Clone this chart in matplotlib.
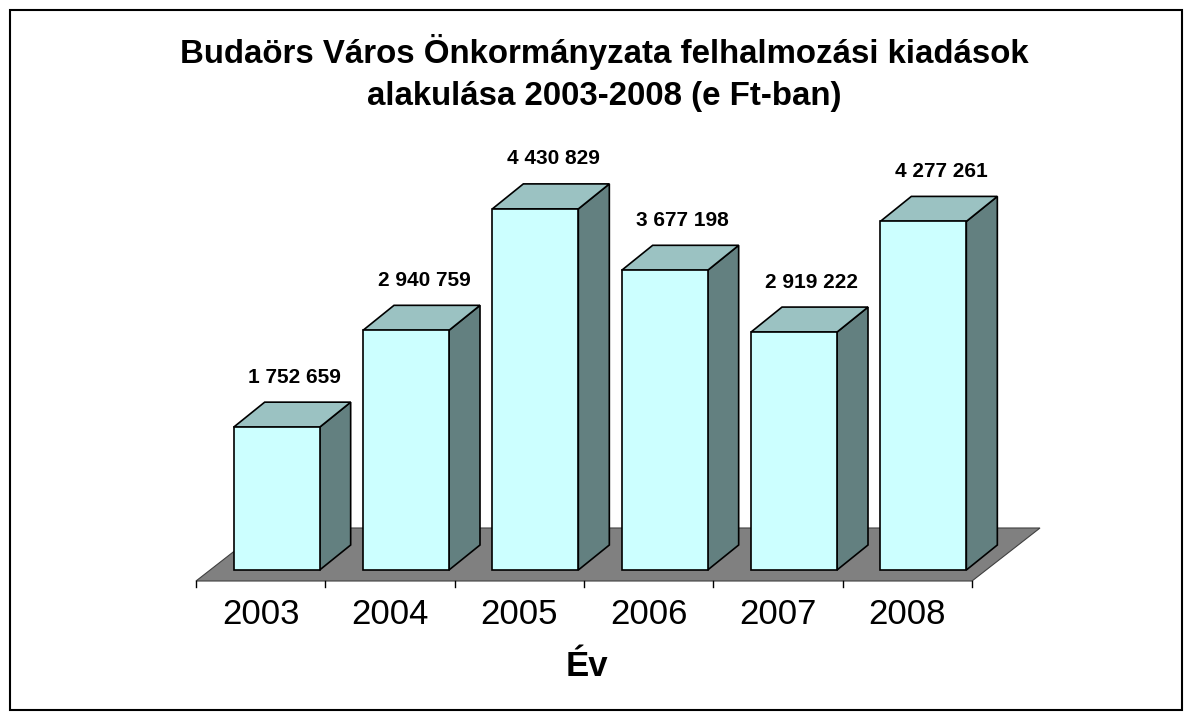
import matplotlib.pyplot as plt
from matplotlib.patches import Polygon, Rectangle

years = ['2003', '2004', '2005', '2006', '2007', '2008']
values = [1752659, 2940759, 4430829, 3677198, 2919222, 4277261]
labels = ['1 752 659', '2 940 759', '4 430 829', '3 677 198', '2 919 222', '4 277 261']
title_lines = ['Budaörs Város Önkormányzata felhalmozási kiadások',
               'alakulása 2003-2008 (e Ft-ban)']

plt.rcParams['font.family'] = ['Liberation Sans', 'DejaVu Sans']

fig = plt.figure(figsize=(11.92, 7.2), dpi=100)

# outer frame
fig.patches.append(Rectangle((10 / 1192, 10 / 720), 1172 / 1192, 700 / 720,
                             transform=fig.transFigure, fill=False,
                             edgecolor='black', linewidth=1.5))

ymax = 5.5e6
ax = fig.add_axes([196 / 1192, (720 - 581) / 720, 776 / 1192, 81.5 * 5.5 / 720])
ax.set_xlim(-0.5, 5.5)
ax.set_ylim(0, ymax)
ax.axis('off')

# pixel -> data conversions
px_x = 6 / 776.0
px_y = 1e6 / 81.5

# floor
fdx, fdy = 68 * px_x, 53 * px_y
floor = Polygon([(-0.5, 0), (5.5, 0), (5.5 + fdx, fdy), (-0.5 + fdx, fdy)],
                closed=True, facecolor='#808080', edgecolor='#404040',
                linewidth=0.8, clip_on=False, zorder=1)
ax.add_patch(floor)

# bars
w = 86 / 129.33
sx, sy = 14 * px_x, 11 * px_y    # front offset inside floor
dx, dy = 31 * px_x, 25 * px_y    # bar depth
for i, v in enumerate(values):
    x0 = i - w / 2 + 2 * px_x + sx
    x1 = x0 + w
    y0 = sy
    y1 = sy + v
    front = Polygon([(x0, y0), (x1, y0), (x1, y1), (x0, y1)],
                    facecolor='#CCFFFF', edgecolor='black', linewidth=1.2,
                    clip_on=False, zorder=3)
    side = Polygon([(x1, y0), (x1 + dx, y0 + dy), (x1 + dx, y1 + dy), (x1, y1)],
                   facecolor='#638080', edgecolor='black', linewidth=1.2,
                   clip_on=False, zorder=2)
    top = Polygon([(x0, y1), (x1, y1), (x1 + dx, y1 + dy), (x0 + dx, y1 + dy)],
                  facecolor='#9BC2C2', edgecolor='black', linewidth=1.2,
                  clip_on=False, zorder=2)
    for p in (side, top, front):
        ax.add_patch(p)
    ax.annotate(labels[i], xy=((x0 + x1) / 2, y1), xytext=(18, 50),
                textcoords='offset pixels', ha='center', va='center',
                fontsize=15, fontweight='bold', annotation_clip=False)

# ticks and category labels
for k in range(len(years) + 1):
    ax.plot([k - 0.5, k - 0.5], [0, -6 * px_y], color='black', linewidth=1,
            clip_on=False)
for i, yr in enumerate(years):
    ax.annotate(yr, xy=(i, 0), xytext=(0, -33), textcoords='offset pixels',
                ha='center', va='center', fontsize=25, annotation_clip=False)

fig.text(587 / 1192, 1 - 666 / 720, 'Év', ha='center', va='center',
         fontsize=25, fontweight='bold')

for j, line in enumerate(title_lines):
    fig.text(604 / 1192, 1 - (52 + 44 * j) / 720, line,
             ha='center', va='center', fontsize=23.8, fontweight='bold')

fig.savefig('out.png', dpi=100)
